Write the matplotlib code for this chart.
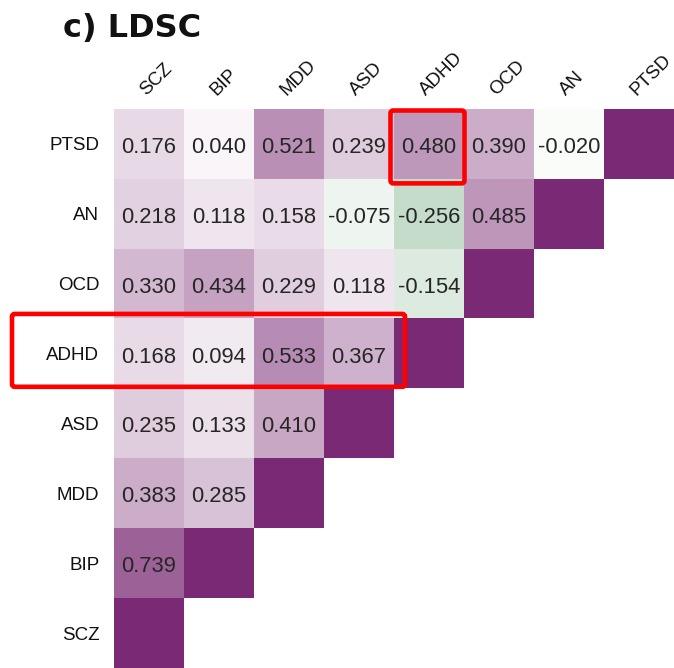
import numpy as np
import matplotlib
matplotlib.use("Agg")
import matplotlib.pyplot as plt
import matplotlib.transforms as mtransforms
from matplotlib.colors import LinearSegmentedColormap
from matplotlib.patches import FancyBboxPatch

row_labels = ["PTSD", "AN", "OCD", "ADHD", "ASD", "MDD", "BIP", "SCZ"]
col_labels = ["SCZ", "BIP", "MDD", "ASD", "ADHD", "OCD", "AN", "PTSD"]

ptsd = [0.176, 0.040, 0.521, 0.239, 0.480, 0.390, -0.020, 1.0]
an   = [0.218, 0.118, 0.158, -0.075, -0.256, 0.485, 1.0]
ocd  = [0.330, 0.434, 0.229, 0.118, -0.154, 1.0]
adhd = [0.168, 0.094, 0.533, 0.367, 1.0]
asd  = [0.235, 0.133, 0.410, 1.0]
mdd  = [0.383, 0.285, 1.0]
bip  = [0.739, 1.0]
scz  = [1.0]
rows = [ptsd, an, ocd, adhd, asd, mdd, bip, scz]

n = len(col_labels)
M = np.full((n, n), np.nan)
for i, r in enumerate(rows):
    M[i, :len(r)] = r

cmap = LinearSegmentedColormap.from_list("gwp", ["#1d7632", "#ffffff", "#7a2a74"])
cmap.set_bad("white")

plt.rcParams['font.family'] = ['Liberation Sans', 'DejaVu Sans']
fig = plt.figure(figsize=(6.74, 6.68), dpi=100)
ax = fig.add_axes([114/674, 0.0, 560/674, 559/668])
ax.imshow(np.ma.masked_invalid(M), cmap=cmap, vmin=-1, vmax=1, aspect='auto',
          interpolation='nearest')
ax.set_xlim(-0.5, n - 0.5)
ax.set_ylim(n - 0.5, -0.5)
for s in ax.spines.values():
    s.set_visible(False)
ax.set_xticks([])
ax.set_yticks(range(n))
ax.set_yticklabels(row_labels, fontsize=13.5, color="#111111")
ax.tick_params(axis='y', length=0, pad=10.5)

# cell values (off-diagonal)
for i, r in enumerate(rows):
    for j, v in enumerate(r[:-1]):
        ax.text(j, i + 0.05, f"{v:.3f}", ha='center', va='center', fontsize=15.8,
                color="#262626")

# column labels rotated
for j, lab in enumerate(col_labels):
    trans = mtransforms.offset_copy(ax.transData, fig=fig, x=-3/100*72, y=13/100*72,
                                    units='points')
    ax.text(j, -0.5, lab, rotation=45, rotation_mode='anchor', ha='left',
            va='baseline', fontsize=13.5, color="#111111", transform=trans,
            clip_on=False)

# title
fig.text(63/674, 1 - 37/668, "c) LDSC", fontsize=23, fontweight='bold',
         family='DejaVu Sans', ha='left', va='baseline', color="#111111")

# highlight boxes (in cell units)
cw = 70.0
r0, c0 = row_labels.index("PTSD"), col_labels.index("ADHD")
box1 = FancyBboxPatch((c0 - 0.5 - 3.5/cw, r0 - 0.5 + 1.5/cw),
                      1 + 4/cw, 1 + 3/cw,
                      boxstyle="round,pad=0,rounding_size=0.04",
                      fill=False, edgecolor="#ff0000", linewidth=3.3, clip_on=False,
                      zorder=5)
ax.add_patch(box1)

r1 = row_labels.index("ADHD")
box2 = FancyBboxPatch((-0.5 - 102/cw, r1 - 0.5 - 4.7/cw),
                      (405 - 12)/cw, (387 - 314)/cw,
                      boxstyle="round,pad=0,rounding_size=0.04",
                      fill=False, edgecolor="#ff0000", linewidth=3.3, clip_on=False,
                      zorder=5)
ax.add_patch(box2)

fig.savefig("out.png", dpi=100)
